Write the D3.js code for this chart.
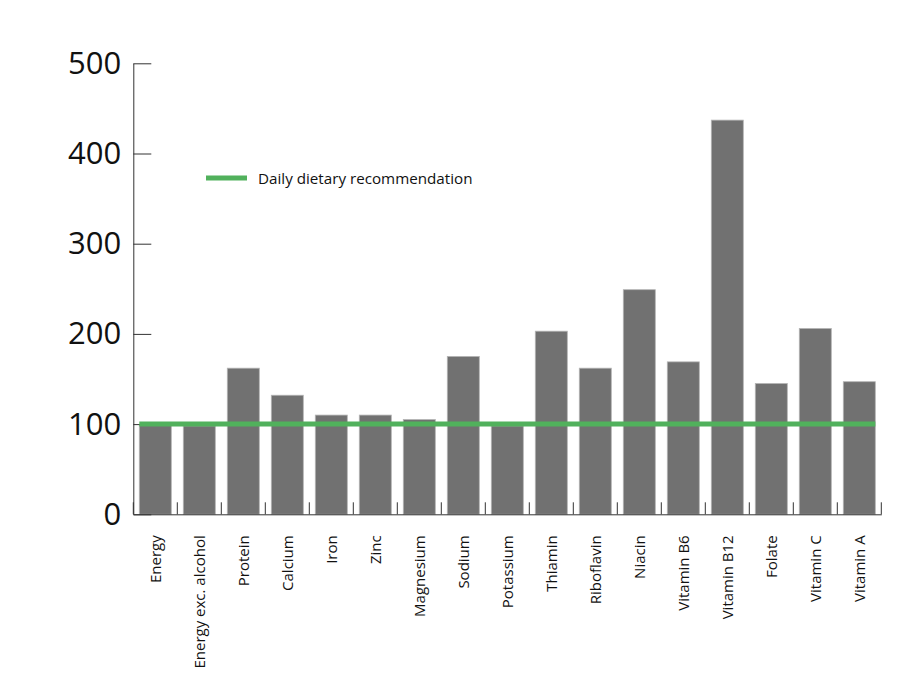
<!DOCTYPE html>
<html>
<head>
<meta charset="utf-8">
<script src="https://cdn.jsdelivr.net/npm/d3@7"></script>
<style>
  html, body { margin: 0; padding: 0; background: #fff; }
  svg { display: block; }
</style>
</head>
<body>
<svg id="chart" width="920" height="688"></svg>
<script>
const categories = ["Energy", "Energy exc. alcohol", "Protein", "Calcium", "Iron", "Zinc",
  "Magnesium", "Sodium", "Potassium", "Thiamin", "Riboflavin", "Niacin", "Vitamin B6",
  "Vitamin B12", "Folate", "Vitamin C", "Vitamin A"];
const values = [99, 98, 162, 132, 110, 110, 105, 175, 98, 203, 162, 249, 169, 437, 145, 206, 147];
const recommendation = 100;
const yTicks = [0, 100, 200, 300, 400, 500];
const legendLabel = "Daily dietary recommendation";

(function () {
const svg = d3.select("#chart");
const mLeft = 133.3, mRight = 881.3, mTop = 63.3, mBottom = 514.3;
const font = "'Open Sans', 'Noto Sans', sans-serif";

const pIn = 12 / 44;
const x = d3.scaleBand().domain(categories).range([mLeft, mRight])
  .paddingInner(pIn).paddingOuter(pIn / 2);
const y = d3.scaleLinear().domain([0, 500]).range([mBottom, mTop]);

// bars
svg.append("g").selectAll("rect").data(values).join("rect")
  .attr("x", (d, i) => x(categories[i]))
  .attr("y", d => y(d))
  .attr("width", x.bandwidth())
  .attr("height", d => y(0) - y(d))
  .attr("fill", "#717171")
  .attr("stroke", "#b4b4b4")
  .attr("stroke-width", 0.8);

// y axis
const yAxis = svg.append("g").attr("transform", `translate(${mLeft},0)`)
  .call(d3.axisLeft(y).tickValues(yTicks).tickSize(-18).tickSizeOuter(0).tickPadding(12));
yAxis.select(".domain").attr("stroke", "#333").attr("stroke-width", 1);
yAxis.selectAll(".tick line").attr("stroke", "#333");
yAxis.selectAll(".tick text").attr("font-family", font).attr("font-size", 31).attr("fill", "#111");

// x axis (labels)
const xAxis = svg.append("g").attr("transform", `translate(0,${mBottom})`)
  .call(d3.axisBottom(x).tickSize(0).tickSizeOuter(0));
xAxis.select(".domain").attr("stroke", "#333").attr("stroke-width", 1);
xAxis.selectAll(".tick text")
  .attr("font-family", font).attr("font-size", 15).attr("fill", "#111")
  .attr("transform", "rotate(-90)")
  .attr("x", -21).attr("y", 0).attr("dy", "0.35em")
  .attr("text-anchor", "end");

// boundary ticks
const half = (x.step() - x.bandwidth()) / 2;
const bounds = categories.map(c => x(c) - half).concat([x(categories[categories.length - 1]) + x.bandwidth() + half]);
svg.append("g").selectAll("line").data(bounds).join("line")
  .attr("x1", d => d).attr("x2", d => d)
  .attr("y1", mBottom).attr("y2", mBottom - 12)
  .attr("stroke", "#333").attr("stroke-width", 1);

// recommendation line
const green = "#51b15c";
svg.append("line")
  .attr("x1", x(categories[0]))
  .attr("x2", x(categories[categories.length - 1]) + x.bandwidth())
  .attr("y1", y(recommendation)).attr("y2", y(recommendation))
  .attr("stroke", green).attr("stroke-width", 5);

// legend
const lg = svg.append("g");
lg.append("line").attr("x1", 206).attr("x2", 247).attr("y1", 178).attr("y2", 178)
  .attr("stroke", green).attr("stroke-width", 5);
lg.append("text").attr("x", 258).attr("y", 184)
  .attr("font-family", font).attr("font-size", 15.2).attr("fill", "#111")
  .text(legendLabel);
})();
</script>
</body>
</html>
